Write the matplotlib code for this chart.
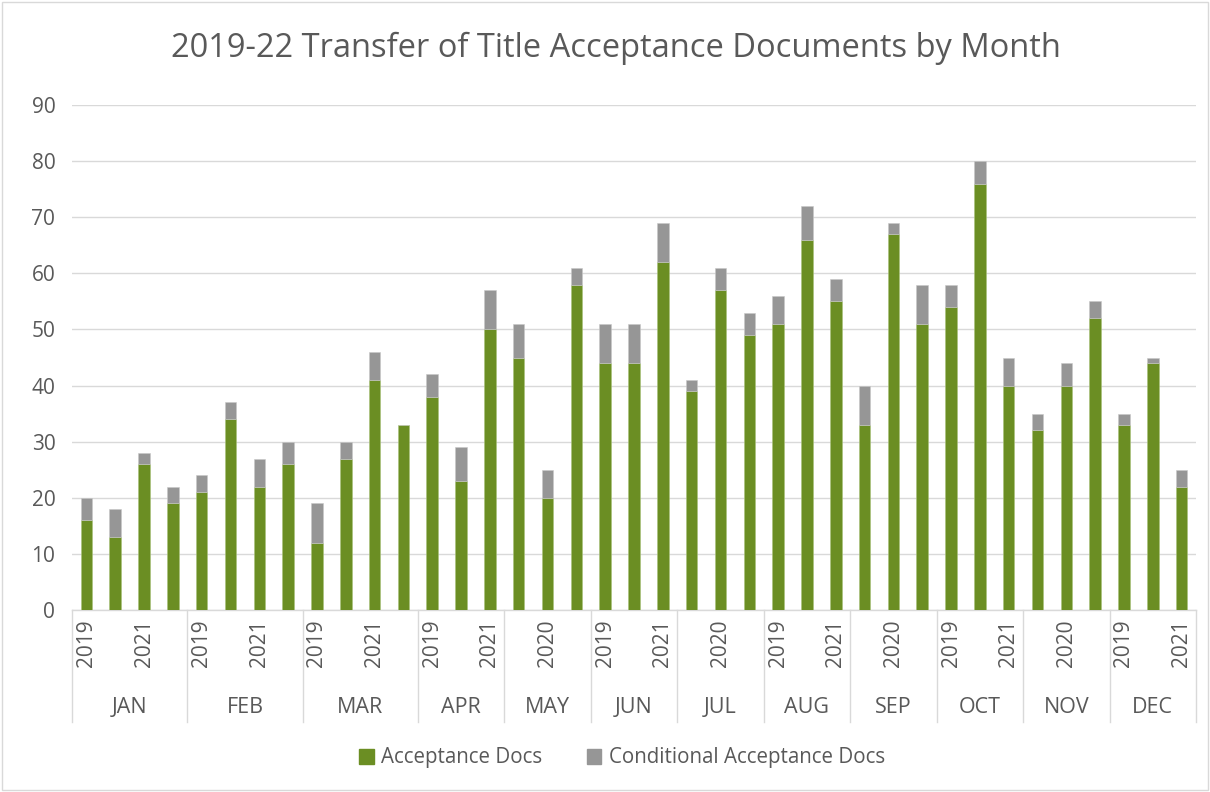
import matplotlib
matplotlib.use("Agg")
import matplotlib.pyplot as plt
import matplotlib.transforms as mtransforms
from matplotlib.patches import Rectangle, Patch
import numpy as np

plt.rcParams['font.family'] = ['Open Sans', 'DejaVu Sans']

# categories: month and the years shown under each month
months = ['JAN', 'FEB', 'MAR', 'APR', 'MAY', 'JUN',
          'JUL', 'AUG', 'SEP', 'OCT', 'NOV', 'DEC']
month_years = [
    ['2019', '2020', '2021', '2022'],
    ['2019', '2020', '2021', '2022'],
    ['2019', '2020', '2021', '2022'],
    ['2019', '2020', '2021'],
    ['2019', '2020', '2021'],
    ['2019', '2020', '2021'],
    ['2019', '2020', '2021'],
    ['2019', '2020', '2021'],
    ['2019', '2020', '2021'],
    ['2019', '2020', '2021'],
    ['2019', '2020', '2021'],
    ['2019', '2020', '2021'],
]

# series values, in the same order
acceptance = [16, 13, 26, 19,  21, 34, 22, 26,  12, 27, 41, 33,
              38, 23, 50,  45, 20, 58,  44, 44, 62,  39, 57, 49,
              51, 66, 55,  33, 67, 51,  54, 76, 40,  32, 40, 52,
              33, 44, 22]
conditional = [4, 5, 2, 3,  3, 3, 5, 4,  7, 3, 5, 0,
               4, 6, 7,  6, 5, 3,  7, 7, 7,  2, 4, 4,
               5, 6, 4,  7, 2, 7,  4, 4, 5,  3, 4, 3,
               2, 1, 3]

green = '#6B8E23'
grey = '#969696'
txt = '#595959'
line = '#D9D9D9'

years = [y for ys in month_years for y in ys]
x = np.arange(len(years))

fig = plt.figure(figsize=(12.1, 7.92), dpi=100)
ax = fig.add_axes([72 / 1210, 1 - 610 / 792, 1124 / 1210, 505 / 792])

ax.bar(x, acceptance, width=0.4, color=green, edgecolor='#A9C27A',
       linewidth=0.4, zorder=3)
ax.bar(x, conditional, width=0.4, bottom=acceptance, color=grey,
       edgecolor='#C8C8C8', linewidth=0.4, zorder=3)

ax.set_xlim(-0.5, len(years) - 0.5)
ax.set_ylim(0, 90)
ax.set_yticks(range(0, 91, 10))
ax.grid(axis='y', color=line, linewidth=1, zorder=0)
for s in ['top', 'right', 'left']:
    ax.spines[s].set_visible(False)
ax.spines['bottom'].set_color(line)
ax.spines['bottom'].set_linewidth(1)
ax.tick_params(axis='y', length=0, labelsize=15, labelcolor=txt, pad=12)

# year labels on every other bar, as Excel does
ax.set_xticks(x)
ax.set_xticklabels([y if i % 2 == 0 else '' for i, y in enumerate(years)],
                   rotation=90)
ax.tick_params(axis='x', length=0, labelsize=15, labelcolor=txt, pad=7)

# month level of the category axis
trans = mtransforms.blended_transform_factory(ax.transData, ax.transAxes)
start = -0.5
bounds = [start]
for m, ys in zip(months, month_years):
    end = start + len(ys)
    ax.text((start + end) / 2, -0.194, m, transform=trans, ha='center',
            va='center', fontsize=15.5, color=txt)
    bounds.append(end)
    start = end
for b in bounds:
    ax.plot([b, b], [0, -0.222], transform=trans, color=line, linewidth=1,
            clip_on=False)

fig.text(0.509, 1 - 48 / 792,
         '2019-22 Transfer of Title Acceptance Documents by Month',
         ha='center', va='center', fontsize=23.5, color=txt)

handles = [Patch(color=green, label='Acceptance Docs'),
           Patch(color=grey, label='Conditional Acceptance Docs')]
fig.legend(handles=handles, loc='center', bbox_to_anchor=(0.514, 1 - 758 / 792),
           ncol=2, frameon=False, fontsize=14.8, labelcolor=txt,
           handlelength=0.7, handleheight=0.7, handletextpad=0.35,
           columnspacing=2.2)

fig.patches.append(Rectangle((0.002, 0.003), 0.996, 0.994,
                             transform=fig.transFigure, fill=False,
                             edgecolor=line, linewidth=1))

fig.savefig('out.png', dpi=100)
